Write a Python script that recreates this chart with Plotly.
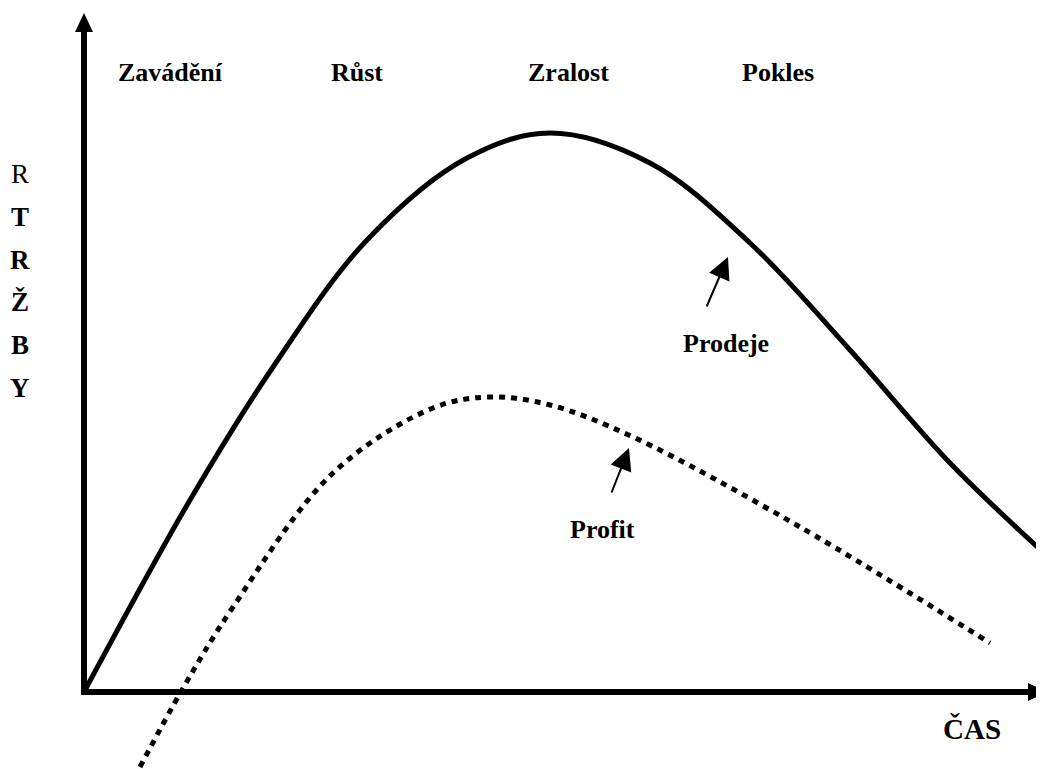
import plotly.graph_objects as go

# Data (time units, sales units); origin at the axes corner
sales_t = [0, 106, 189, 283, 383, 466, 566, 666, 766, 866, 960]
sales_v = [0, 192, 325, 452, 534, 559, 529, 449, 342, 229, 139]

profit_t = [56, 98, 149, 249, 349, 406, 466, 549, 716, 906]
profit_v = [-75, 2, 85, 219, 284, 295, 287, 255, 165, 49]

phase_labels = ["Zavádění", "Růst", "Zralost", "Pokles"]
phase_t = [86, 273, 484, 694]
phase_y = 620

y_letters = ["R", "<b>T</b>", "<b>R</b>", "<b>Ž</b>", "<b>B</b>", "<b>Y</b>"]
y_letters_v = [518, 475, 432, 390, 347, 304]

FONT = "Liberation Serif, Times New Roman, serif"

fig = go.Figure()
fig.add_trace(go.Scatter(x=sales_t, y=sales_v, mode="lines",
                         line=dict(color="black", width=5, shape="spline", smoothing=1.0),
                         hoverinfo="skip"))
fig.add_trace(go.Scatter(x=profit_t, y=profit_v, mode="lines",
                         line=dict(color="black", width=5, dash="6px,6px", shape="spline", smoothing=1.0),
                         hoverinfo="skip"))

# Axes with arrowheads
fig.add_shape(type="line", x0=0, y0=-3, x1=0, y1=662, line=dict(color="black", width=6))
fig.add_shape(type="path", path="M -9,660 L 9,660 L 0,679 Z", fillcolor="black", line=dict(width=0))
fig.add_shape(type="line", x0=-3, y0=0, x1=948, y1=0, line=dict(color="black", width=6))
fig.add_shape(type="path", path="M 944,-9 L 944,9 L 963,0 Z", fillcolor="black", line=dict(width=0))

anns = []
for lab, t in zip(phase_labels, phase_t):
    anns.append(dict(x=t, y=phase_y, text="<b>%s</b>" % lab, showarrow=False,
                     font=dict(family=FONT, size=26, color="black")))
for lab, v in zip(y_letters, y_letters_v):
    anns.append(dict(x=-64, y=v, text=lab, showarrow=False,
                     font=dict(family=FONT, size=27, color="black")))
anns.append(dict(x=888, y=-37, text="<b>ČAS</b>", showarrow=False,
                 font=dict(family=FONT, size=29, color="black")))
anns.append(dict(x=642, y=349, text="<b>Prodeje</b>", showarrow=False,
                 font=dict(family=FONT, size=26, color="black")))
anns.append(dict(x=518, y=163, text="<b>Profit</b>", showarrow=False,
                 font=dict(family=FONT, size=26, color="black")))
# pointer arrows
anns.append(dict(x=644, y=435, ax=622, ay=384, xref="x", yref="y", axref="x", ayref="y",
                 text="", showarrow=True, arrowhead=2, arrowsize=2.2, arrowwidth=2, arrowcolor="black"))
anns.append(dict(x=545, y=244, ax=527, ay=198, xref="x", yref="y", axref="x", ayref="y",
                 text="", showarrow=True, arrowhead=2, arrowsize=2.2, arrowwidth=2, arrowcolor="black"))

fig.update_layout(
    width=1036, height=761,
    margin=dict(l=0, r=0, t=0, b=0),
    plot_bgcolor="white", paper_bgcolor="white",
    showlegend=False,
    annotations=anns,
    xaxis=dict(range=[-76, 960], visible=False, fixedrange=True),
    yaxis=dict(range=[-77, 684], visible=False, fixedrange=True),
)
fig.write_html("out.html")
